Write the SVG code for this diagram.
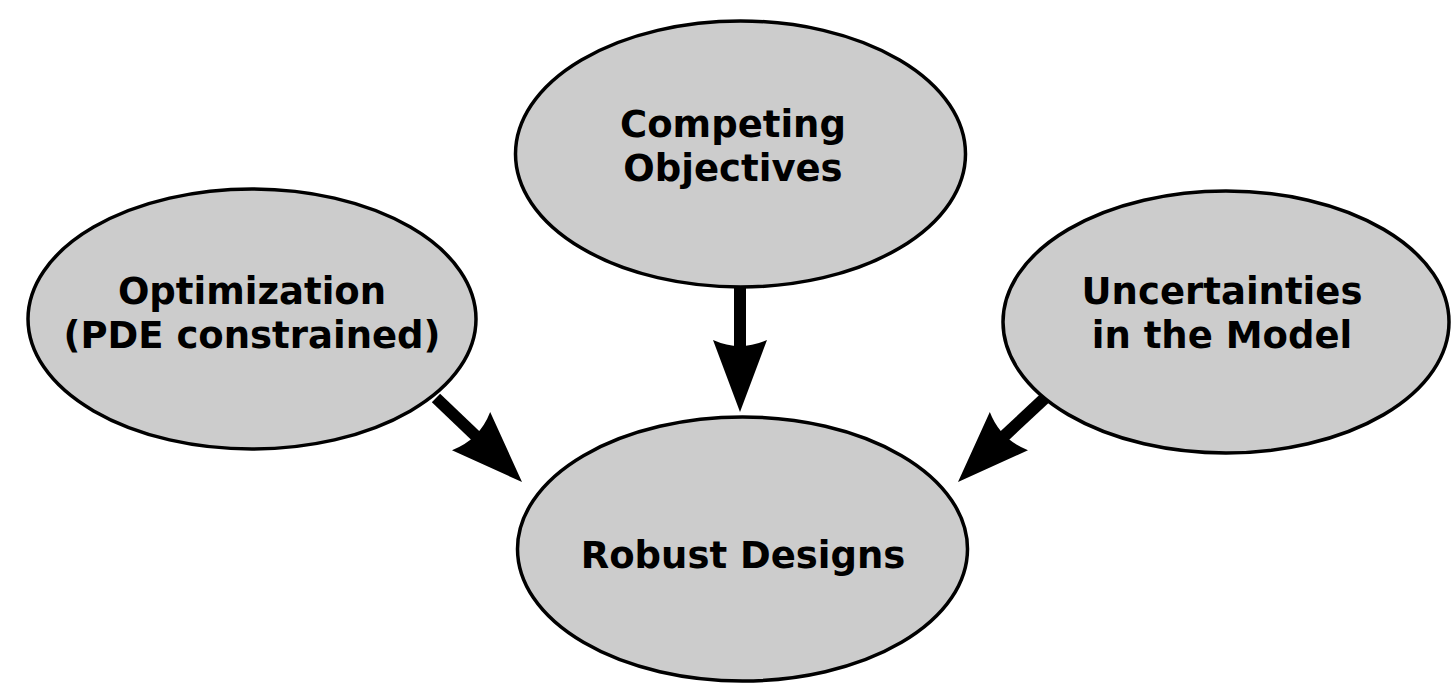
<svg xmlns="http://www.w3.org/2000/svg" width="1451" height="695" viewBox="0 0 1451 695">
  <style>
    .node { fill: #cccccc; stroke: #000000; stroke-width: 3.5; }
    .lbl { font-family: "DejaVu Sans", "Liberation Sans", sans-serif; font-weight: bold; font-size: 37px; fill: #000000; text-anchor: middle; }
    .shaft { stroke: #000000; stroke-width: 12; fill: none; }
    .head { fill: #000000; stroke: none; }
  </style>
  <defs>
    <path id="ah" d="M0,0 L-27,-72 Q0,-60 27,-72 Z"/>
  </defs>
  <rect width="1451" height="695" fill="#ffffff"/>
  <g id="connectors">
    <line class="shaft" x1="740" y1="286" x2="740" y2="355"/>
    <use href="#ah" class="head" transform="translate(740,412)"/>
    <line class="shaft" x1="436" y1="398" x2="480" y2="440"/>
    <use href="#ah" class="head" transform="translate(522,482) rotate(-45)"/>
    <line class="shaft" x1="1045" y1="398" x2="1000" y2="440"/>
    <use href="#ah" class="head" transform="translate(958,482) rotate(45)"/>
  </g>
  <g id="competing">
    <ellipse class="node" cx="740.5" cy="154" rx="225" ry="133"/>
    <text class="lbl" x="733" y="137">Competing</text>
    <text class="lbl" x="733" y="181">Objectives</text>
  </g>
  <g id="optimization">
    <ellipse class="node" cx="252" cy="319" rx="224" ry="130"/>
    <text class="lbl" x="252" y="304">Optimization</text>
    <text class="lbl" x="252" y="348">(PDE constrained)</text>
  </g>
  <g id="uncertainties">
    <ellipse class="node" cx="1226" cy="322" rx="223" ry="131"/>
    <text class="lbl" x="1222" y="304">Uncertainties</text>
    <text class="lbl" x="1222" y="348">in the Model</text>
  </g>
  <g id="robust">
    <ellipse class="node" cx="742.5" cy="549" rx="225" ry="132"/>
    <text class="lbl" x="743" y="568">Robust Designs</text>
  </g>
</svg>
